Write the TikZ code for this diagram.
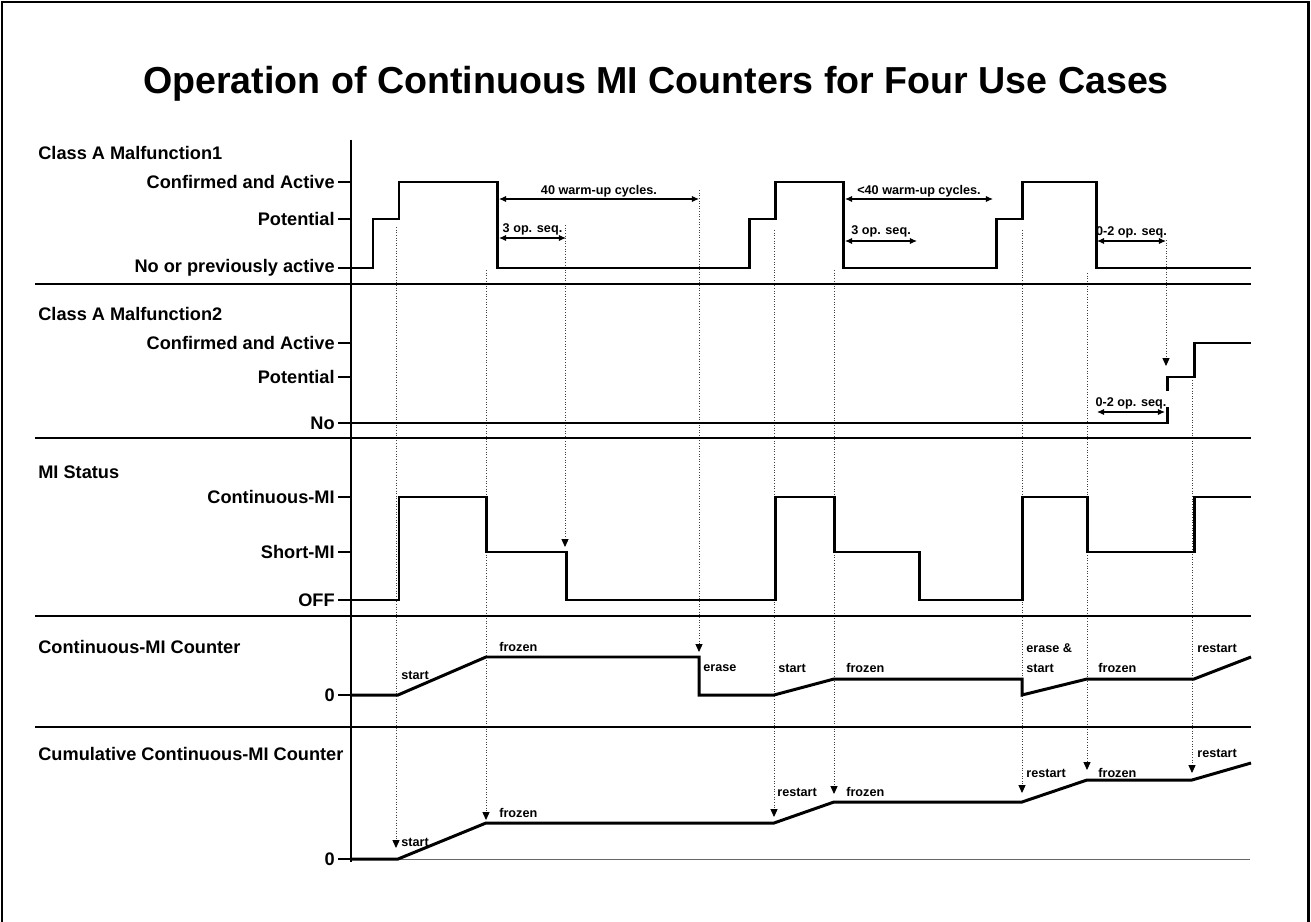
\documentclass[tikz,border=0pt]{standalone}
\usepackage{fontspec}
\setmainfont{Liberation Sans}
\usetikzlibrary{arrows.meta}
\tikzset{
  sig/.style={line width=1.7pt},
  sepline/.style={line width=1.1pt},
  lvl/.style={anchor=east, inner sep=0pt, font=\fontsize{10.35}{12}\selectfont\bfseries},
  hdr/.style={anchor=west, inner sep=0pt, font=\fontsize{10.35}{12}\selectfont\bfseries},
  tag/.style={anchor=west, inner sep=0pt, font=\fontsize{7.2}{8.6}\selectfont\bfseries},
  span/.style={line width=0.6pt, {Latex[length=4pt,width=3.5pt]}-{Latex[length=4pt,width=3.5pt]}},
  trig/.style={densely dotted, line width=0.5pt, black!75, -{Triangle[length=4.5pt,width=4pt,color=black]}},
}
\begin{document}
\begin{tikzpicture}[x=0.02cm, y=-0.02cm]
  \useasboundingbox (0,0) rectangle (1311,922);
  \draw[line width=1.7pt] (2,922) -- (2,2) -- (1308,2) -- (1308,922);
  \node [inner sep=0pt, font=\fontsize{21.4}{25}\selectfont\bfseries] (title) at (656,84) {Operation of Continuous MI Counters for Four Use Cases};

  % trigger lines
  \foreach \n/\x/\ya/\yb in {1/396/227/848, 2/486/270/820, 3/565/225/547, 4/699/190/652, 5/774/230/817,
                             6/834/270/794, 7/1022/230/793, 8/1087/273/770, 9/1166/240/366, 10/1192/380/773}{
    \coordinate (top\n) at (\x,\ya);
    \coordinate (end\n) at (\x,\yb);
    \draw[trig] (top\n) -- (end\n);
  }

  % frame of the chart
  \draw[sepline] (351,140) -- (351,862);
  \foreach \y in {284,438,616,727}
    \draw[sepline] (35,\y) -- (1251,\y);
  \foreach \y in {182,219,268,343,377,423,497,552,600,695,859}
    \draw[sepline] (338,\y) -- (351,\y);
  \draw[line width=0.4pt, black!60] (351,859) -- (1250,859);

  % Class A Malfunction1
  \node [hdr] (m1) at (38,153) {Class A Malfunction1};
  \node [lvl] (m1c) at (335,182) {Confirmed and Active};
  \node [lvl] (m1p) at (335,219) {Potential};
  \node [lvl] (m1n) at (335,268) {No or previously active};
  \draw[sig] (351,268) -| (373,219) -| (399,182) -| (497,268) -| (749,219) -| (775,182) -| (843,268)
             -| (996,219) -| (1022,182) -| (1096,268) -- (1251,268);
  \draw[span] (499,199) -- (699,199) node[midway, above=1pt, inner sep=0pt, font=\fontsize{7.2}{8.6}\selectfont\bfseries] (w40) {40 warm-up cycles.};
  \draw[span] (499,238) -- (566,238) node[midway, above=1.5pt, inner sep=0pt, font=\fontsize{7.2}{8.6}\selectfont\bfseries] (s3a) {3 op. seq.};
  \draw[span] (845,199) -- (993,199) node[midway, above=1pt, inner sep=0pt, font=\fontsize{7.2}{8.6}\selectfont\bfseries] (w40b) {<40 warm-up cycles.};
  \draw[span] (845,241) -- (917,241) node[midway, above=2pt, inner sep=0pt, font=\fontsize{7.2}{8.6}\selectfont\bfseries] (s3b) {3 op. seq.};
  \draw[span] (1097,241) -- (1166,241) node[midway, above=1.5pt, inner sep=0pt, font=\fontsize{7.2}{8.6}\selectfont\bfseries] (s02a) {0-2 op. seq.};

  % Class A Malfunction2
  \node [hdr] (m2) at (38,314) {Class A Malfunction2};
  \node [lvl] (m2c) at (335,343) {Confirmed and Active};
  \node [lvl] (m2p) at (335,377) {Potential};
  \node [lvl] (m2n) at (335,423) {No};
  \draw[sig] (351,423) -| (1167,407);
  \draw[sig] (1167,391) |- (1194,377) |- (1251,343);
  \draw[span] (1097,412) -- (1165,412) node[midway, above=1.5pt, inner sep=0pt, font=\fontsize{7.2}{8.6}\selectfont\bfseries] (s02b) {0-2 op. seq.};

  % MI Status
  \node [hdr] (mi) at (38,472) {MI Status};
  \node [lvl] (mic) at (335,497) {Continuous-MI};
  \node [lvl] (mis) at (335,552) {Short-MI};
  \node [lvl] (mio) at (335,600) {OFF};
  \draw[sig] (351,600) -| (399,497) -| (486,552) -| (566,600) -| (775,497) -| (834,552) -| (919,600)
             -| (1022,497) -| (1087,552) -| (1194,497) -- (1251,497);

  % Continuous-MI Counter
  \node [hdr] (cc) at (38,647) {Continuous-MI Counter};
  \node [lvl] (cc0) at (335,695) {0};
  \draw[sig] (351,695) -- (398,695) -- (486,657) -- (699,657) -- (699,695) -- (774,695) -- (834,679)
             -- (1022,679) -- (1022,695) -- (1087,679) -- (1194,679) -- (1251,657);
  \node [tag] (c1) at (401,675) {start};
  \node [tag] (c2) at (499,647) {frozen};
  \node [tag] (c3) at (703,668) {erase};
  \node [tag] (c4) at (778,668) {start};
  \node [tag] (c5) at (846,668) {frozen};
  \node [tag] (c6) at (1026,648) {erase \&};
  \node [tag] (c7) at (1026,668) {start};
  \node [tag] (c8) at (1098,668) {frozen};
  \node [tag] (c9) at (1197,648) {restart};

  % Cumulative Continuous-MI Counter
  \node [hdr] (cu) at (38,754) {Cumulative Continuous-MI Counter};
  \node [lvl] (cu0) at (335,859) {0};
  \draw[sig] (351,859) -- (398,859) -- (486,823) -- (774,823) -- (834,802) -- (1022,802) -- (1087,780)
             -- (1192,780) -- (1251,763);
  \node [tag] (u1) at (401,842) {start};
  \node [tag] (u2) at (499,813) {frozen};
  \node [tag] (u3) at (777,792) {restart};
  \node [tag] (u4) at (846,792) {frozen};
  \node [tag] (u5) at (1026,773) {restart};
  \node [tag] (u6) at (1098,773) {frozen};
  \node [tag] (u7) at (1197,753) {restart};
\end{tikzpicture}
\end{document}
